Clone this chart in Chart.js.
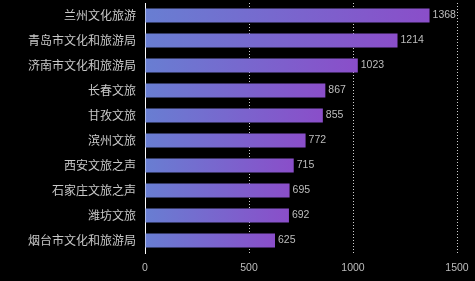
<!DOCTYPE html>
<html><head><meta charset="utf-8">
<script src="https://cdn.jsdelivr.net/npm/chart.js@4/dist/chart.umd.min.js"></script>
<style>html,body{margin:0;padding:0;background:#000;}#w{width:475px;height:281px;}</style>
</head><body><div id="w"><canvas id="c"></canvas></div>
<script>
const categories = ["兰州文化旅游","青岛市文化和旅游局","济南市文化和旅游局","长春文旅","甘孜文旅","滨州文旅","西安文旅之声","石家庄文旅之声","潍坊文旅","烟台市文化和旅游局"];
const values = [1368,1214,1023,867,855,772,715,695,692,625];
const xTicks = [0,500,1000,1500];

const valueLabels = {
  id:'valueLabels',
  afterDatasetsDraw(chart){
    const ctx = chart.ctx;
    const meta = chart.getDatasetMeta(0);
    ctx.save();
    ctx.font = '10.5px "Liberation Sans", Arial, sans-serif';
    ctx.fillStyle = '#bdbdbd';
    ctx.textBaseline = 'middle';
    ctx.textAlign = 'left';
    meta.data.forEach((el,i)=>{
      ctx.fillText(String(values[i]), el.x + 3, el.y);
    });
    ctx.restore();
  }
};

new Chart(document.getElementById('c'), {
  type:'bar',
  data:{labels:categories, datasets:[{
    data:values,
    backgroundColor(ctx){
      const chart = ctx.chart;
      const xs = chart.scales.x;
      if(!chart.chartArea || !xs || ctx.dataIndex === undefined) return '#7a64cf';
      const x0 = xs.getPixelForValue(0);
      const x1 = xs.getPixelForValue(values[ctx.dataIndex]);
      const g = chart.ctx.createLinearGradient(x0,0,x1,0);
      g.addColorStop(0,'#687ed2');
      g.addColorStop(1,'#8a4ec9');
      return g;
    },
    borderWidth:0,
    categoryPercentage:1,
    barPercentage:0.56
  }]},
  options:{
    indexAxis:'y',
    responsive:true,
    maintainAspectRatio:false,
    animation:false,
    devicePixelRatio:1,
    layout:{padding:{top:3,right:18,bottom:0,left:0}},
    plugins:{legend:{display:false},tooltip:{enabled:false}},
    scales:{
      x:{
        min:0,max:1500,
        afterBuildTicks(s){ s.ticks = xTicks.map(v=>({value:v})); },
        afterFit(s){ s.height = 28; s.paddingLeft = 0; s.paddingRight = 0; },
        border:{display:false,dash:[1,2]},
        grid:{
          color(c){ return c.tick && c.tick.value === 0 ? 'rgba(0,0,0,0)' : '#cfcfcf'; },
          lineWidth:1,
          drawTicks:false
        },
        ticks:{color:'#bdbdbd',padding:9,callback:(v)=>String(v),font:{family:'"Liberation Sans", Arial, sans-serif',size:10.5}}
      },
      y:{
        afterFit(s){ s.width = 145; s.paddingTop = 0; s.paddingBottom = 0; },
        border:{display:true,color:'#ffffff',width:1},
        grid:{display:false,drawTicks:false},
        ticks:{color:'#c8c8c8',padding:9,font:{family:'"Noto Sans CJK SC", sans-serif',size:12}}
      }
    }
  },
  plugins:[valueLabels]
});
</script>
</body></html>
